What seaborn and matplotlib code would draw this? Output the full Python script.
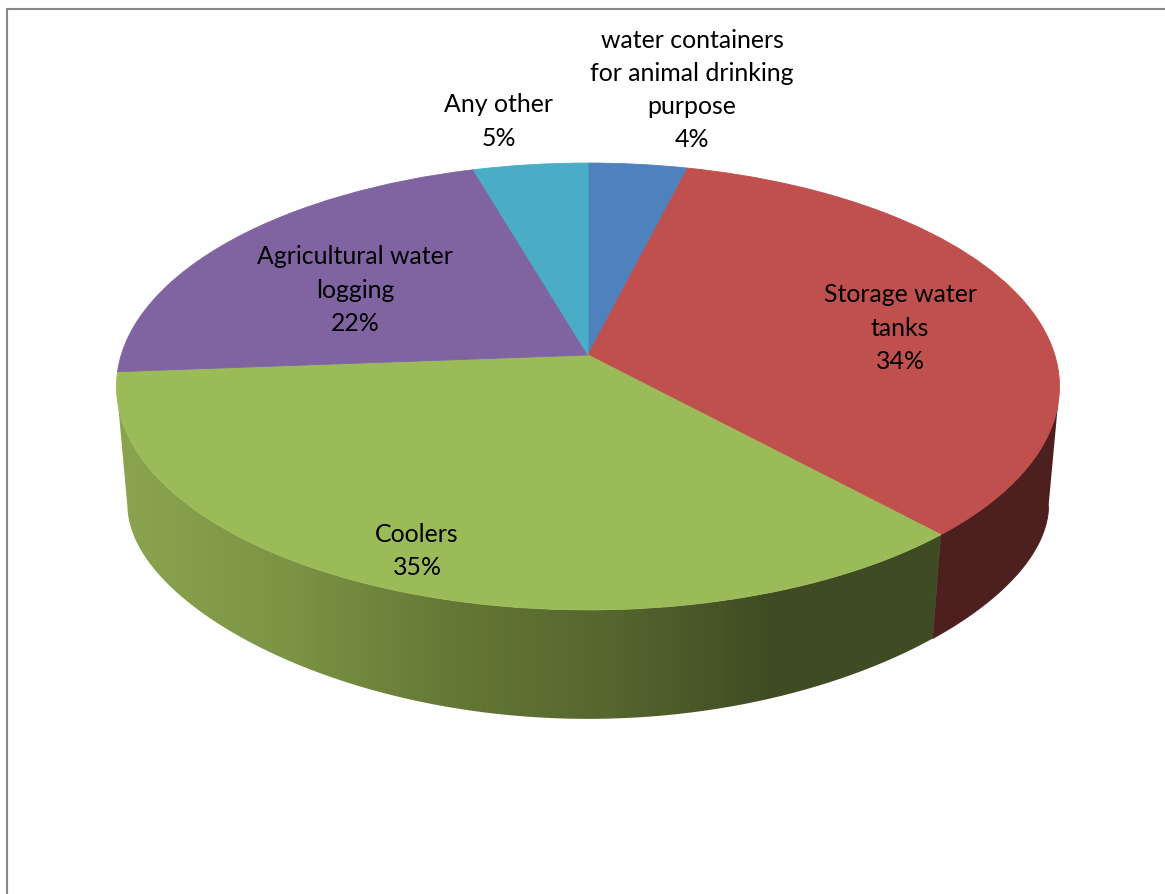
import numpy as np
import matplotlib
matplotlib.use("Agg")
import matplotlib.pyplot as plt
import seaborn as sns
from matplotlib.path import Path
from matplotlib.patches import PathPatch
from matplotlib.transforms import Transform, IdentityTransform

# ---------- data ----------
categories = ["water containers\nfor animal drinking\npurpose", "Storage water\ntanks",
              "Coolers", "Agricultural water\nlogging", "Any other"]
values = [3.9, 34.25, 35.65, 21.7, 4.5]
percent_labels = [4, 34, 35, 22, 5]
top_colors = ["#4F81BD", "#C0504D", "#9BBB59", "#8064A2", "#4BACC6"]
wall_colors = ["#2A4466", "#4D1F1E", "#3E4A23", "#453656", "#28606E"]
cooler_wall_stops = ["#8AA44F", "#7C9545", "#657936", "#55662E", "#3F4B23", "#3F4B23"]
label_x = [692, 900, 417, 355, 499]
label_y = [90, 328, 551, 290, 121.5]

# ---------- layout (pixels) ----------
W, H = 1165, 894
HUB_X, HUB_Y = 588, 355
TOP_A, TOP_B, PERSP = 466.8, 219.0, 0.1409
LOW_A, LOW_B, LOW_PERSP, LOW_DY = 456.0, 169.6, 0.29, 125.0
TOP_TANGENT, LOW_TANGENT = -0.22, -0.14


def top_xy(x, y):
    return HUB_X + TOP_A * x / (1 + PERSP * y), HUB_Y - TOP_B * y / (1 + PERSP * y)


def low_xy(x, y):
    return HUB_X + LOW_A * x / (1 + PERSP * y), HUB_Y + LOW_DY - LOW_B * y / (1 + LOW_PERSP * y)


class Tilt(Transform):
    input_dims = output_dims = 2

    def transform_non_affine(self, pts):
        pts = np.asarray(pts)
        return np.column_stack(top_xy(pts[:, 0], pts[:, 1]))

    def transform_path_non_affine(self, path):
        return Path(self.transform_non_affine(path.vertices), path.codes)


sns.set_theme(style="white")
plt.rcParams["font.family"] = ["Lato", "DejaVu Sans"]
fig = plt.figure(figsize=(W / 100, H / 100), dpi=100, facecolor="#FEFEFE")
ax = fig.add_axes([0, 0, 1, 1])

wedges, _ = ax.pie(values, colors=sns.color_palette(top_colors), startangle=90, counterclock=False,
                   wedgeprops=dict(linewidth=0.6, zorder=5))
ax.set_aspect("auto")
ax.set_xlim(0, W)
ax.set_ylim(H, 0)
ax.axis("off")

tilt = Tilt() + ax.transData
for w, c in zip(wedges, top_colors):
    w.set_edgecolor(c)
    w.set_transform(w.get_patch_transform() + tilt)
    w.get_patch_transform = lambda: IdentityTransform()

# side walls: only the front part of each slice's rim, behind the top face
edges = 90 - 3.6 * np.concatenate([[0], np.cumsum(values)])
for i in range(len(values)):
    th = np.radians(np.linspace(edges[i], edges[i + 1], 600))
    up = th[np.sin(th) <= TOP_TANGENT]
    lo = th[np.sin(th) <= LOW_TANGENT]
    if len(up) == 0 or len(lo) == 0:
        continue
    ux, uy = top_xy(np.cos(up), np.sin(up))
    lx, ly = low_xy(np.cos(lo), np.sin(lo))
    poly = np.column_stack([np.r_[ux, lx[::-1]], np.r_[uy, ly[::-1]]])
    if top_colors[i] == "#9BBB59":
        patch = PathPatch(Path(poly), fc="none", ec="none", transform=ax.transData)
        ax.add_patch(patch)
        cmap = sns.blend_palette(cooler_wall_stops, n_colors=256, as_cmap=True)
        im = ax.imshow(np.linspace(0, 1, 256)[None, :], cmap=cmap, aspect="auto",
                       extent=(poly[:, 0].min(), poly[:, 0].max(), H, 0), zorder=3)
        im.set_clip_path(patch)
    else:
        ax.add_patch(PathPatch(Path(poly), fc=wall_colors[i], ec=wall_colors[i], lw=0.6, zorder=2))
ax.set_xlim(0, W)
ax.set_ylim(H, 0)

for name, p, x, y in zip(categories, percent_labels, label_x, label_y):
    ax.text(x, y, f"{name}\n{p}%", ha="center", va="center", multialignment="center",
            fontsize=17.9, color="black", linespacing=1.54, zorder=8)

# chart border: only the top and left edges fall inside the picture
ax.plot([6.5, 6.5, W], [H, 8.5, 8.5], color="#878787", lw=1.5, zorder=9, solid_joinstyle="miter")

fig.savefig("out.png", dpi=100, facecolor=fig.get_facecolor())
